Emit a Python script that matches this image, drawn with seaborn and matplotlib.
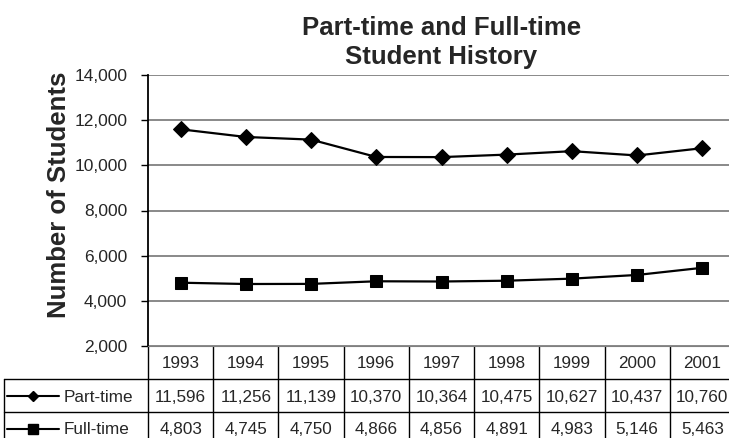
import matplotlib
matplotlib.use("Agg")
import pandas as pd
import matplotlib.pyplot as plt
import matplotlib.ticker as mticker
import seaborn as sns

# === Data ===
years = ["1993", "1994", "1995", "1996", "1997", "1998", "1999", "2000", "2001"]
part_time = [11596, 11256, 11139, 10370, 10364, 10475, 10627, 10437, 10760]
full_time = [4803, 4745, 4750, 4866, 4856, 4891, 4983, 5146, 5463]
series_names = ["Part-time", "Full-time"]
series_values = [part_time, full_time]
series_markers = ["D", "s"]
marker_sizes = [8, 8.5]
key_sizes = [5.5, 6.5]

sns.set_style("white")
plt.rcParams["font.family"] = ["Liberation Sans", "DejaVu Sans"]

# === Layout in pixels ===
W, H = 729, 438
ax_left, ax_right, ax_top, ax_bot = 148, 735, 75, 346
fig = plt.figure(figsize=(W / 100, H / 100), dpi=100)
ax = fig.add_axes([ax_left / W, 1 - ax_bot / H,
                   (ax_right - ax_left) / W, (ax_bot - ax_top) / H])

for name, vals, mk, ms in zip(series_names, series_values, series_markers, marker_sizes):
    d = pd.DataFrame({"year": years, "students": vals})
    sns.lineplot(data=d, x="year", y="students", marker=mk, color="black",
                 markersize=ms, markeredgecolor="black", linewidth=1.6,
                 sort=False, ax=ax)

ax.set_xlim(-0.5, len(years) - 0.5)
ax.set_ylim(2000, 14000)
ax.set_yticks(range(2000, 14001, 2000))
ax.yaxis.set_major_formatter(mticker.StrMethodFormatter("{x:,.0f}"))
ax.set_xticks([])
ax.set_xlabel("")
ax.grid(axis="y", color="#808080", linewidth=1.3)
ax.set_axisbelow(True)
for s in ["top", "right"]:
    ax.spines[s].set_visible(False)
ax.spines["bottom"].set_color("#808080")
ax.spines["left"].set_color("black")
ax.spines["left"].set_linewidth(1.3)
ax.tick_params(axis="y", left=True, length=5, width=1, color="black",
               pad=10, labelsize=12.5)
ax.set_ylabel("Number of Students", fontsize=18.5, fontweight="bold")
ax.yaxis.set_label_coords(-0.131, 0.557)
ax.set_title("Part-time and Full-time\nStudent History", fontsize=18.5,
             fontweight="bold", pad=8, linespacing=1.28)

# === Data table below the plot ===
tab = fig.add_axes([0, 0, 1, 1], zorder=-1)
tab.set_xlim(0, W)
tab.set_ylim(H, 0)
tab.axis("off")

col_w = (ax_right - ax_left) / len(years)
edges = [ax_left + i * col_w for i in range(len(years) + 1)]
row_h = 33
rows = [ax_bot, ax_bot + row_h, ax_bot + 2 * row_h, ax_bot + 3 * row_h]
lc = dict(color="black", linewidth=1)

for x in edges:
    tab.plot([x, x], [rows[0], rows[3]], **lc)
tab.plot([4, 4], [rows[1], rows[3]], **lc)
for y in rows[1:3]:
    tab.plot([4, ax_right], [y, y], **lc)

fs = 12.3
for i, yr in enumerate(years):
    cx = edges[i] + col_w / 2
    tab.text(cx, rows[0] + 22, yr, ha="center", va="baseline", fontsize=fs)
    for r, vals in enumerate(series_values):
        tab.text(cx, rows[r + 1] + 22.5, f"{vals[i]:,}", ha="center",
                 va="baseline", fontsize=fs)

for r, name in enumerate(series_names):
    cy = rows[r + 1] + row_h / 2
    tab.plot([7, 59], [cy, cy], color="black", linewidth=1.5)
    tab.plot([33], [cy], marker=series_markers[r], color="black",
             markersize=key_sizes[r])
    tab.text(64, rows[r + 1] + 22.5, name, ha="left", va="baseline", fontsize=fs)

fig.savefig("out.png", dpi=100)
